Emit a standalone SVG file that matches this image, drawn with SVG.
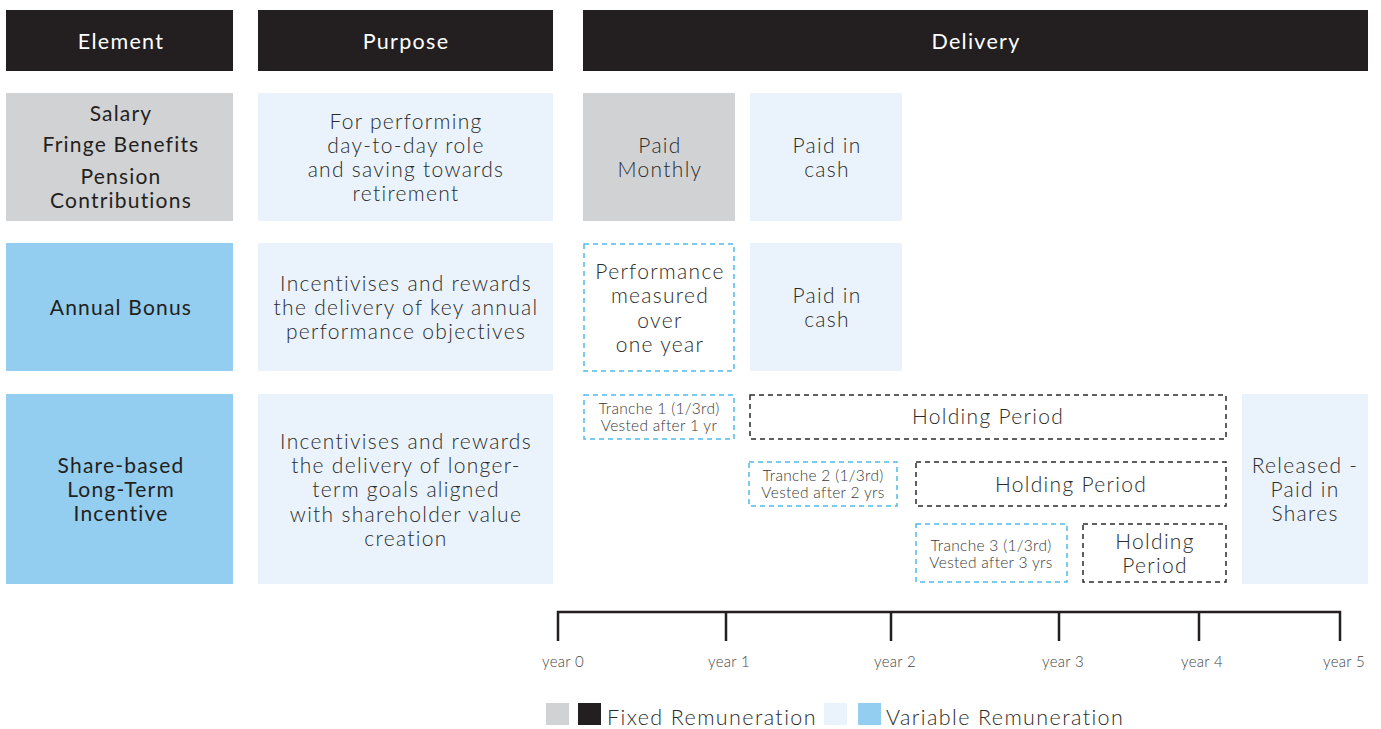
<svg xmlns="http://www.w3.org/2000/svg" width="1381" height="729" viewBox="0 0 1381 729">
  <style>
    .hdr { fill: #231f20; }
    .hdr-t { fill: #ffffff; font-family: Lato, "Liberation Sans", sans-serif; font-size: 21.5px; font-weight: 400; letter-spacing: 1.3px; text-anchor: middle; }
    .fixed { fill: #d1d2d4; }
    .var { fill: #93cdef; }
    .light { fill: #eaf3fb; }
    .el { fill: #231f20; font-family: Lato, "Liberation Sans", sans-serif; font-size: 21px; font-weight: 400; letter-spacing: 1.2px; text-anchor: middle; }
    .tx { fill: #2b2b2b; font-family: Lato, "Liberation Sans", sans-serif; font-size: 21px; font-weight: 300; letter-spacing: 1.3px; text-anchor: middle; }
    .sm { fill: #3a3a3a; font-family: Lato, "Liberation Sans", sans-serif; font-size: 15.5px; font-weight: 300; letter-spacing: 0.3px; text-anchor: middle; }
    .dash-b { fill: none; stroke: #4dbbea; stroke-width: 1.5; stroke-dasharray: 5 4; }
    .dash-k { fill: none; stroke: #2b2b2b; stroke-width: 1.5; stroke-dasharray: 5 4; }
    .axis { stroke: #231f20; stroke-width: 2.5; fill: none; }
    .yr { fill: #444; font-family: Lato, "Liberation Sans", sans-serif; font-size: 15px; font-weight: 300; letter-spacing: 0.3px; text-anchor: middle; }
    .lg { fill: #2b2b2b; font-family: Lato, "Liberation Sans", sans-serif; font-size: 21.5px; font-weight: 300; letter-spacing: 1.4px; }
  </style>

  <!-- column headers -->
  <g id="hdr-element"><rect class="hdr" x="6" y="10" width="227" height="61"/><text class="hdr-t" x="121" y="49">Element</text></g>
  <g id="hdr-purpose"><rect class="hdr" x="258" y="10" width="295" height="61"/><text class="hdr-t" x="406" y="49">Purpose</text></g>
  <g id="hdr-delivery"><rect class="hdr" x="583" y="10" width="785" height="61"/><text class="hdr-t" x="976" y="49">Delivery</text></g>

  <!-- row 1: fixed pay -->
  <g id="el-salary">
    <rect class="fixed" x="6" y="93" width="227" height="128"/>
    <text class="el" x="121" y="121">Salary</text>
    <text class="el" x="121" y="152">Fringe Benefits</text>
    <text class="el" x="121" y="184">Pension</text>
    <text class="el" x="121" y="208">Contributions</text>
  </g>
  <g id="pu-salary">
    <rect class="light" x="258" y="93" width="295" height="128"/>
    <text class="tx" x="406" y="129">For performing</text>
    <text class="tx" x="406" y="153">day-to-day role</text>
    <text class="tx" x="406" y="177">and saving towards</text>
    <text class="tx" x="406" y="201">retirement</text>
  </g>
  <g id="de-monthly">
    <rect class="fixed" x="583" y="93" width="152" height="128"/>
    <text class="tx" x="660" y="153">Paid</text>
    <text class="tx" x="660" y="177">Monthly</text>
  </g>
  <g id="de-cash1">
    <rect class="light" x="750" y="93" width="152" height="128"/>
    <text class="tx" x="827" y="153">Paid in</text>
    <text class="tx" x="827" y="177">cash</text>
  </g>

  <!-- row 2: annual bonus -->
  <g id="el-bonus">
    <rect class="var" x="6" y="243" width="227" height="128"/>
    <text class="el" x="121" y="315">Annual Bonus</text>
  </g>
  <g id="pu-bonus">
    <rect class="light" x="258" y="243" width="295" height="128"/>
    <text class="tx" x="406" y="291">Incentivises and rewards</text>
    <text class="tx" x="406" y="315">the delivery of key annual</text>
    <text class="tx" x="406" y="339">performance objectives</text>
  </g>
  <g id="de-measured">
    <rect class="dash-b" x="584" y="244" width="150" height="127"/>
    <text class="tx" x="660" y="279">Performance</text>
    <text class="tx" x="660" y="303">measured</text>
    <text class="tx" x="660" y="328">over</text>
    <text class="tx" x="660" y="352">one year</text>
  </g>
  <g id="de-cash2">
    <rect class="light" x="750" y="243" width="152" height="128"/>
    <text class="tx" x="827" y="303">Paid in</text>
    <text class="tx" x="827" y="327">cash</text>
  </g>

  <!-- row 3: share-based long-term incentive -->
  <g id="el-ltip">
    <rect class="var" x="6" y="394" width="227" height="190"/>
    <text class="el" x="121" y="473">Share-based</text>
    <text class="el" x="121" y="497">Long-Term</text>
    <text class="el" x="121" y="521">Incentive</text>
  </g>
  <g id="pu-ltip">
    <rect class="light" x="258" y="394" width="295" height="190"/>
    <text class="tx" x="406" y="449">Incentivises and rewards</text>
    <text class="tx" x="406" y="473">the delivery of longer-</text>
    <text class="tx" x="406" y="497">term goals aligned</text>
    <text class="tx" x="406" y="522">with shareholder value</text>
    <text class="tx" x="406" y="546">creation</text>
  </g>
  <g id="tranche-1">
    <rect class="dash-b" x="584" y="395" width="150" height="44"/>
    <text class="sm" x="659" y="414">Tranche 1 (1/3rd)</text>
    <text class="sm" x="659" y="431">Vested after 1 yr</text>
  </g>
  <g id="holding-1">
    <rect class="dash-k" x="750" y="395" width="476" height="44"/>
    <text class="tx" x="988" y="424">Holding Period</text>
  </g>
  <g id="tranche-2">
    <rect class="dash-b" x="749" y="462" width="148" height="44"/>
    <text class="sm" x="823" y="481">Tranche 2 (1/3rd)</text>
    <text class="sm" x="823" y="498">Vested after 2 yrs</text>
  </g>
  <g id="holding-2">
    <rect class="dash-k" x="916" y="462" width="310" height="44"/>
    <text class="tx" x="1071" y="492">Holding Period</text>
  </g>
  <g id="tranche-3">
    <rect class="dash-b" x="916" y="524" width="151" height="58"/>
    <text class="sm" x="991" y="551">Tranche 3 (1/3rd)</text>
    <text class="sm" x="991" y="568">Vested after 3 yrs</text>
  </g>
  <g id="holding-3">
    <rect class="dash-k" x="1083" y="524" width="143" height="58"/>
    <text class="tx" x="1155" y="549">Holding</text>
    <text class="tx" x="1155" y="573">Period</text>
  </g>
  <g id="released">
    <rect class="light" x="1242" y="394" width="126" height="190"/>
    <text class="tx" x="1305" y="473">Released -</text>
    <text class="tx" x="1305" y="497">Paid in</text>
    <text class="tx" x="1305" y="521">Shares</text>
  </g>

  <!-- timeline axis -->
  <g id="timeline">
    <path class="axis" d="M558 641 V612 H1340 V641 M726 612 V641 M891 612 V641 M1059 612 V641 M1199 612 V641"/>
    <text class="yr" x="563" y="667">year 0</text>
    <text class="yr" x="729" y="667">year 1</text>
    <text class="yr" x="895" y="667">year 2</text>
    <text class="yr" x="1063" y="667">year 3</text>
    <text class="yr" x="1202" y="667">year 4</text>
    <text class="yr" x="1344" y="667">year 5</text>
  </g>

  <!-- legend -->
  <g id="legend">
    <rect class="fixed" x="546" y="703" width="23" height="22"/>
    <rect class="hdr" x="578" y="703" width="23" height="22"/>
    <text class="lg" x="607" y="725">Fixed Remuneration</text>
    <rect class="light" x="824" y="703" width="23" height="22"/>
    <rect class="var" x="858" y="703" width="23" height="22"/>
    <text class="lg" x="886" y="725">Variable Remuneration</text>
  </g>
</svg>
